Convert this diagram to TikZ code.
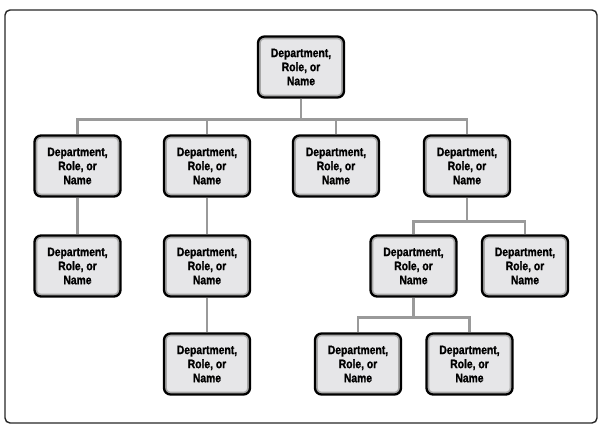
\documentclass[tikz,border=0pt]{standalone}
\usepackage{fontspec}
\usepackage{tikz}
\newfontfamily\boxfont[FakeStretch=0.84, BoldFeatures={FakeStretch=0.84, FakeBold=1.2}]{Liberation Sans}
\definecolor{boxfill}{HTML}{E6E6E8}
\definecolor{boxband}{HTML}{A8A8A8}
\definecolor{linkgray}{HTML}{9A9A9A}

\begin{document}
\begin{tikzpicture}[
  unit/.style={draw=black, line width=1.3pt, rounded corners=0.13cm, fill=boxfill,
    minimum width=1.72cm, minimum height=1.22cm, inner sep=0pt, align=center,
    font=\boxfont\bfseries\fontsize{7}{8}\selectfont,
    path picture={\draw[boxband, line width=3.2pt, rounded corners=0.13cm]
      (path picture bounding box.south west) rectangle (path picture bounding box.north east);}},
  link/.style={linkgray, line width=1.7pt}]
  \useasboundingbox (0,0) rectangle (12,8.52);
  \draw[black!85, line width=0.8pt, rounded corners=0.1cm] (0.1,0.06) rectangle (11.94,8.32);
  % top
  \node[unit] (top) at (6.02,7.18) {Department,\\Role, or\\Name};
  % second row
  \node[unit] (a1) at (1.55,5.2) {Department,\\Role, or\\Name};
  \node[unit] (a2) at (4.14,5.2) {Department,\\Role, or\\Name};
  \node[unit] (a3) at (6.72,5.2) {Department,\\Role, or\\Name};
  \node[unit] (a4) at (9.34,5.2) {Department,\\Role, or\\Name};
  % third row
  \node[unit] (b1) at (1.55,3.2) {Department,\\Role, or\\Name};
  \node[unit] (b2) at (4.14,3.2) {Department,\\Role, or\\Name};
  \node[unit] (b3) at (8.27,3.2) {Department,\\Role, or\\Name};
  \node[unit] (b4) at (10.5,3.2) {Department,\\Role, or\\Name};
  % fourth row
  \node[unit] (c1) at (4.14,1.24) {Department,\\Role, or\\Name};
  \node[unit] (c2) at (7.16,1.24) {Department,\\Role, or\\Name};
  \node[unit] (c3) at (9.39,1.24) {Department,\\Role, or\\Name};
  % connectors
  \draw[link] (top.south) -- ++(0,-0.41) -| (a1.north);
  \draw[link] (top.south) -- ++(0,-0.41) -| (a2.north);
  \draw[link] (top.south) -- ++(0,-0.41) -| (a3.north);
  \draw[link] (top.south) -- ++(0,-0.41) -| (a4.north);
  \draw[link] (a1.south) -- (b1.north);
  \draw[link] (a2.south) -- (b2.north);
  \draw[link] (b2.south) -- (c1.north);
  \draw[link] (a4.south) -- ++(0,-0.47) -| (b3.north);
  \draw[link] (a4.south) -- ++(0,-0.47) -| (b4.north);
  \draw[link] (b3.south) -- ++(0,-0.39) -| (c2.north);
  \draw[link] (b3.south) -- ++(0,-0.39) -| (c3.north);
\end{tikzpicture}
\end{document}
